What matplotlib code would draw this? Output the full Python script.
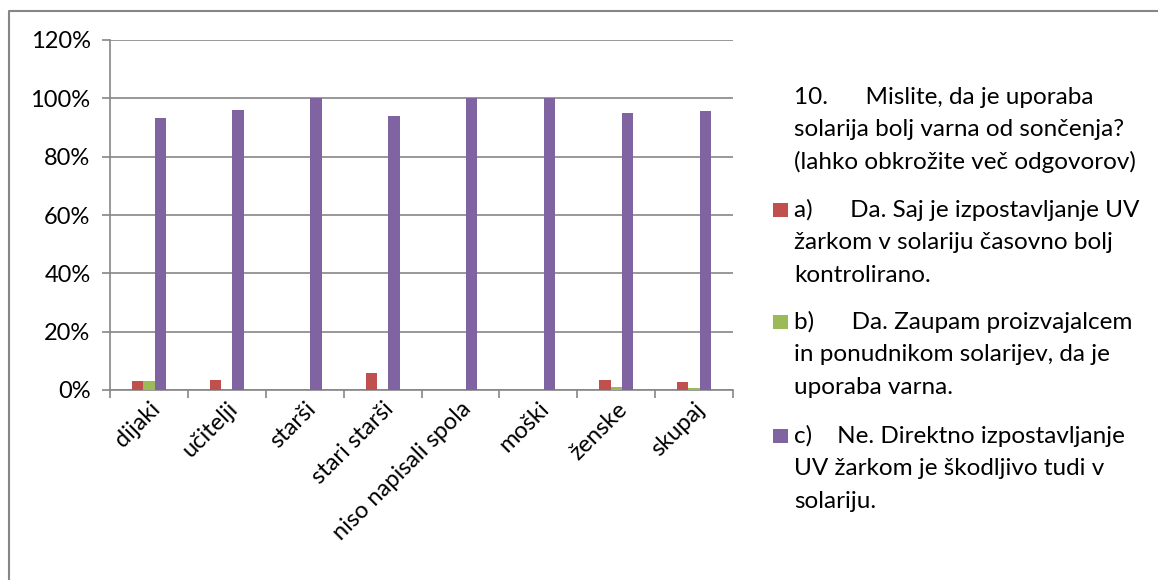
import matplotlib.pyplot as plt
import matplotlib.patches as mpatches
import matplotlib.lines as mlines
import numpy as np

# podatki
kategorije = ['dijaki', 'učitelji', 'starši', 'stari starši', 'niso napisali spola',
              'moški', 'ženske', 'skupaj']
odg_a = [3.0, 3.5, 0, 5.7, 0, 0, 3.4, 2.9]
odg_b = [3.0, 0, 0, 0, 0, 0, 1.1, 0.8]
odg_c = [93.4, 96.0, 100, 94.1, 100, 100, 95.0, 95.8]
barve = ['#c0504d', '#9bbb59', '#8064a2']

naslov = ['10.      Mislite, da je uporaba', 'solarija bolj varna od sončenja?',
          '(lahko obkrožite več odgovorov)']
legenda = [['a)      Da. Saj je izpostavljanje UV', 'žarkom v solariju časovno bolj', 'kontrolirano.'],
           ['b)      Da. Zaupam proizvajalcem', 'in ponudnikom solarijev, da je', 'uporaba varna.'],
           ['c)    Ne. Direktno izpostavljanje', 'UV žarkom je škodljivo tudi v', 'solariju.']]

plt.rcParams['font.family'] = ['Lato', 'DejaVu Sans']

W, H = 1158, 580
fig = plt.figure(figsize=(W / 100, H / 100), dpi=100)

# okvir (samo levo in zgoraj)
fig.lines.append(mlines.Line2D([9 / W, 9 / W, 1], [0, 1 - 11 / H, 1 - 11 / H],
                               transform=fig.transFigure, color='#868686', linewidth=1.5))

ax = fig.add_axes([110 / W, 1 - 390 / H, (733 - 110) / W, (390 - 40) / H])

x = np.arange(len(kategorije))
w = 0.145
ax.bar(x - w, odg_a, w, color=barve[0], zorder=3)
ax.bar(x, odg_b, w, color=barve[1], zorder=3)
ax.bar(x + w, odg_c, w, color=barve[2], zorder=3)

ax.set_xlim(-0.5, len(kategorije) - 0.5)
ax.set_ylim(0, 120)
ax.set_yticks(range(0, 121, 20))
ax.set_yticklabels([f'{v}%' for v in range(0, 121, 20)], fontsize=17)
ax.yaxis.grid(True, color='#868686', linewidth=1.2, zorder=0)
ax.set_xticks(np.arange(-0.5, len(kategorije), 1))
ax.set_xticklabels([])
ax.set_xticks(x, minor=True)
ax.set_xticklabels(kategorije, minor=True, rotation=45, ha='right',
                   rotation_mode='anchor', fontsize=17)
ax.tick_params(axis='x', which='minor', length=0, pad=6)
ax.tick_params(axis='x', which='major', length=6, color='#868686', width=1.2)
ax.tick_params(axis='y', length=6, color='#868686', width=1.2, pad=8)
for s in ['top', 'right']:
    ax.spines[s].set_visible(False)
for s in ['left', 'bottom']:
    ax.spines[s].set_color('#868686')
    ax.spines[s].set_linewidth(1.2)

# legenda
korak = 32.6
for i, t in enumerate(naslov):
    fig.text(794 / W, 1 - (97 + i * korak) / H, t, fontsize=17.5, va='center')
ys = [210, 322, 436]
for y, vrstice, c in zip(ys, legenda, barve):
    for i, t in enumerate(vrstice):
        fig.text(794 / W, 1 - (y + i * korak) / H, t, fontsize=17.5, va='center')
    fig.patches.append(mpatches.Rectangle((773 / W, 1 - (y + 7) / H), 15 / W, 14 / H,
                                          transform=fig.transFigure,
                                          facecolor=c, edgecolor='none'))

fig.savefig('out.png', dpi=100)
